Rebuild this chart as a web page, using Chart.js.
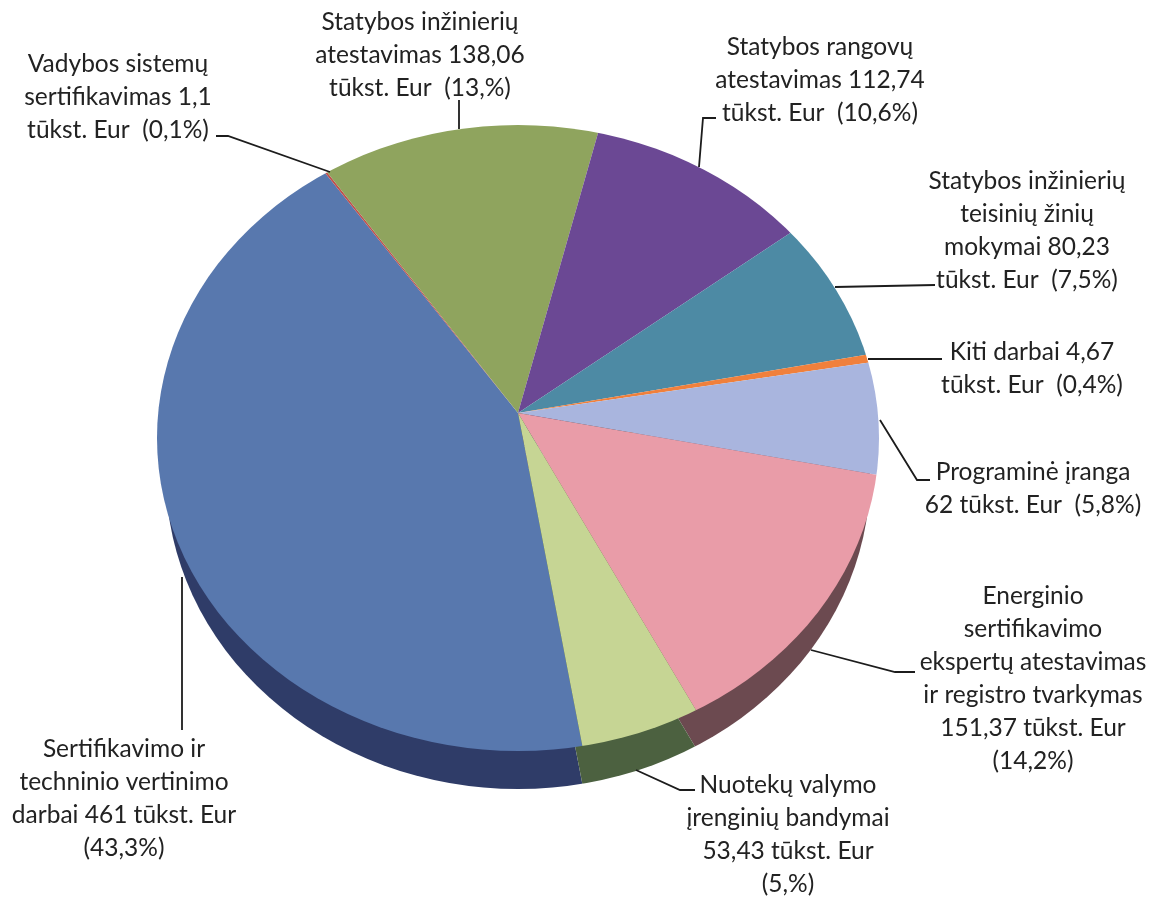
<!DOCTYPE html>
<html>
<head>
<meta charset="utf-8">
<style>
  html, body { margin: 0; background: #fff; }
  #wrap { position: relative; width: 1157px; height: 897px; }
</style>
<script src="https://cdn.jsdelivr.net/npm/chart.js@4"></script>
</head>
<body>
<div id="wrap"><canvas id="pie" width="1157" height="897"></canvas></div>
<script>
// values in thousand Eur, clockwise from the bottom of the pie
const categories = [
  "Sertifikavimo ir techninio vertinimo darbai",
  "Vadybos sistemų sertifikavimas",
  "Statybos inžinierių atestavimas",
  "Statybos rangovų atestavimas",
  "Statybos inžinierių teisinių žinių mokymai",
  "Kiti darbai",
  "Programinė įranga",
  "Energinio sertifikavimo ekspertų atestavimas ir registro tvarkymas",
  "Nuotekų valymo įrenginių bandymai",
];
const values = [461, 1.1, 138.06, 112.74, 80.23, 4.67, 62, 151.37, 53.43];
const labelLines = [
  ["Sertifikavimo ir", "techninio vertinimo", "darbai 461 tūkst. Eur", "(43,3%)"],
  ["Vadybos sistemų", "sertifikavimas 1,1", "tūkst. Eur  (0,1%)"],
  ["Statybos inžinierių", "atestavimas 138,06", "tūkst. Eur  (13,%)"],
  ["Statybos rangovų", "atestavimas 112,74", "tūkst. Eur  (10,6%)"],
  ["Statybos inžinierių", "teisinių žinių", "mokymai 80,23", "tūkst. Eur  (7,5%)"],
  ["Kiti darbai 4,67", "tūkst. Eur  (0,4%)"],
  ["Programinė įranga", "62 tūkst. Eur  (5,8%)"],
  ["Energinio", "sertifikavimo", "ekspertų atestavimas", "ir registro tvarkymas", "151,37 tūkst. Eur", "(14,2%)"],
  ["Nuotekų valymo", "įrenginių bandymai", "53,43 tūkst. Eur", "(5,%)"],
];

const faceColors = ["#5878ae", "#c0504d", "#8fa45e", "#6b4894", "#4d8aa4", "#f0803c", "#a9b5de", "#e99ca8", "#c6d594"];
const rimColors = ["#2f3c68", "#6b2b2a", "#4f5c34", "#3b2852", "#2b4d5c", "#864721", "#5e657c", "#6c4a50", "#4c6140"];

// label placement: centre x and y of the first line
const labelPos = [[124, 749], [118, 64], [420, 22], [820, 47], [1027, 181], [1032, 352], [1033, 472], [1033, 596], [788, 785]];
const lineGap = 33;
const leaders = [
  [[182, 577], [182, 730]],
  [[216, 136], [228, 136], [330, 172]],
  [[459, 100], [459, 129]],
  [[716, 118], [703, 118], [699, 167]],
  [[935, 285], [835, 287]],
  [[942, 359], [868, 359]],
  [[880, 420], [917, 480], [930, 480]],
  [[811, 650], [895, 672], [915, 672]],
  [[636, 770], [680, 790], [695, 790]],
];

// the pie is seen in perspective: outline is an ellipse whose centre sits below the apex,
// the slices are stretched past it and clipped
const faceOutline = { x: 518, y: 438, rx: 361, ry: 313 };
const rimOutline = { x: 518, y: 476, rx: 352, ry: 313 };
const stretch = 1.15;
const squashTop = 0.83;
const squashBottom = 0.875;

function drawPart(ctx, chart, arcs, outline, clipY, clipH, sy, dy) {
  const { x, y } = arcs[0];
  ctx.save();
  ctx.beginPath();
  ctx.ellipse(outline.x, outline.y, outline.rx, outline.ry, 0, 0, Math.PI * 2);
  ctx.clip();
  ctx.beginPath();
  ctx.rect(0, clipY, chart.width, clipH);
  ctx.clip();
  ctx.translate(x, y + dy);
  ctx.scale(stretch, stretch * sy);
  ctx.translate(-x, -y);
  arcs.forEach((arc) => arc.draw(ctx));
  ctx.restore();
}

const tiltedPie = {
  id: "tiltedPie",
  beforeDatasetsDraw(chart) {
    const ctx = chart.ctx;
    const arcs = chart.getDatasetMeta(0).data;
    const cy = arcs[0].y;
    const rim = arcs.map((arc, i) => {
      const copy = Object.create(arc);
      copy.options = Object.assign({}, arc.options, { backgroundColor: rimColors[i] });
      return copy;
    });
    const depth = rimOutline.y - faceOutline.y;
    drawPart(ctx, chart, rim, rimOutline, cy, chart.height - cy, squashBottom, depth);
    drawPart(ctx, chart, arcs, faceOutline, 0, cy, squashTop, 0);
    drawPart(ctx, chart, arcs, faceOutline, cy, chart.height - cy, squashBottom, 0);
    return false;
  },
  afterDraw(chart) {
    const ctx = chart.ctx;
    ctx.save();
    ctx.strokeStyle = "#1c1c1c";
    ctx.lineWidth = 1.8;
    leaders.forEach((pts) => {
      ctx.beginPath();
      pts.forEach(([px, py], i) => (i ? ctx.lineTo(px, py) : ctx.moveTo(px, py)));
      ctx.stroke();
    });
    ctx.fillStyle = "#222";
    ctx.font = "24.5px Lato, 'Open Sans', sans-serif";
    ctx.textAlign = "center";
    ctx.textBaseline = "middle";
    labelLines.forEach((lines, i) => {
      lines.forEach((line, j) => ctx.fillText(line, labelPos[i][0], labelPos[i][1] + j * lineGap));
    });
    ctx.restore();
  },
};

new Chart(document.getElementById("pie"), {
  type: "pie",
  data: {
    labels: categories,
    datasets: [{ data: values, backgroundColor: faceColors, borderWidth: 0 }],
  },
  options: {
    responsive: false,
    animation: false,
    devicePixelRatio: 1,
    rotation: 170.4,
    layout: { padding: { left: 157, right: 278, top: 52, bottom: 123 } },
    plugins: { legend: { display: false }, tooltip: { enabled: false } },
  },
  plugins: [tiltedPie],
});
</script>
</body>
</html>
